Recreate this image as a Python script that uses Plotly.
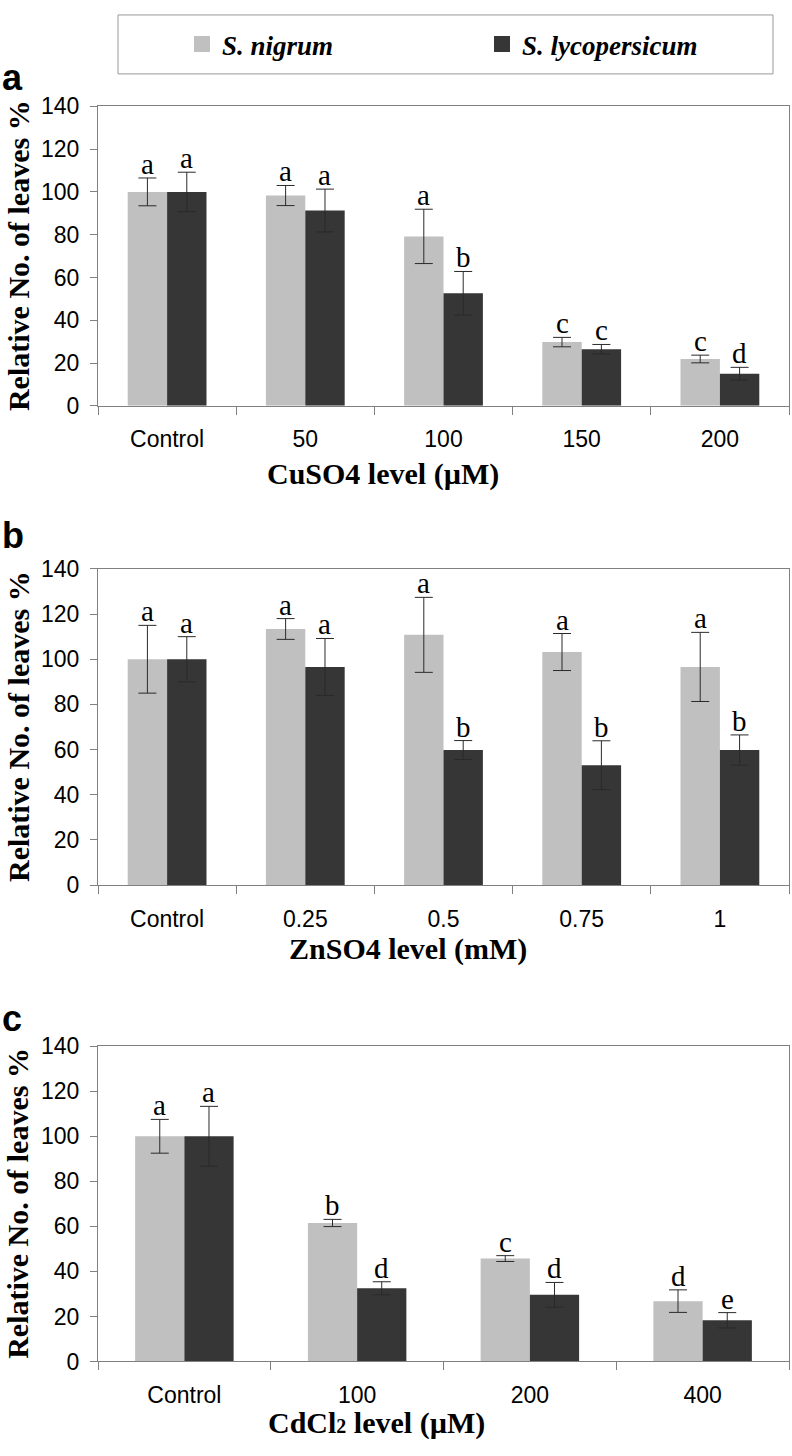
import plotly.graph_objects as go

# ---------------- data ----------------
series_names = ["S. nigrum", "S. lycopersicum"]
series_colors = ["#c0c0c0", "#363636"]

cu_levels = ["Control", "50", "100", "150", "200"]
cu_nigrum = [100, 98.3, 79.2, 29.8, 21.9]
cu_nigrum_err = [6.5, 4.7, 12.7, 2.2, 1.8]
cu_lyco = [100, 91.3, 52.6, 26.5, 15.0]
cu_lyco_err = [9.2, 10.0, 10.2, 2.2, 3.0]
cu_nigrum_sig = ["a", "a", "a", "c", "c"]
cu_lyco_sig = ["a", "a", "b", "c", "d"]

zn_levels = ["Control", "0.25", "0.5", "0.75", "1"]
zn_nigrum = [100, 113.4, 110.8, 103.2, 96.6]
zn_nigrum_err = [15.0, 4.6, 16.6, 8.2, 15.3]
zn_lyco = [100, 96.6, 59.8, 53.1, 59.8]
zn_lyco_err = [10.0, 12.6, 4.2, 10.8, 6.7]
zn_nigrum_sig = ["a", "a", "a", "a", "a"]
zn_lyco_sig = ["a", "a", "b", "b", "b"]

cd_levels = ["Control", "100", "200", "400"]
cd_nigrum = [100, 61.5, 45.7, 26.8]
cd_nigrum_err = [7.5, 1.6, 1.3, 5.0]
cd_lyco = [100, 32.5, 29.6, 18.3]
cd_lyco_err = [13.3, 2.9, 5.5, 3.4]
cd_nigrum_sig = ["a", "b", "c", "d"]
cd_lyco_sig = ["a", "d", "d", "e"]

y_ticks = [0, 20, 40, 60, 80, 100, 120, 140]
y_title = "Relative No. of leaves %"
x_titles = ["CuSO4 level (\u00b5M)", "ZnSO4 level (mM)",
            "CdCl<span style='font-size:20px'>2</span> level (\u00b5M)"]
panel_letters = ["a", "b", "c"]

# ---------------- layout geometry ----------------
W, H = 792, 1456
BARGAP = 0.43

def py(px):
    return 1 - px / H

panels = [
    dict(levels=cu_levels, n=cu_nigrum, ne=cu_nigrum_err, l=cu_lyco, le=cu_lyco_err,
         ns=cu_nigrum_sig, ls=cu_lyco_sig, top=95, bot=400, xt=(383, 469), letter_y=66),
    dict(levels=zn_levels, n=zn_nigrum, ne=zn_nigrum_err, l=zn_lyco, le=zn_lyco_err,
         ns=zn_nigrum_sig, ls=zn_lyco_sig, top=566, bot=888, xt=(408, 953), letter_y=532),
    dict(levels=cd_levels, n=cd_nigrum, ne=cd_nigrum_err, l=cd_lyco, le=cd_lyco_err,
         ns=cd_nigrum_sig, ls=cd_lyco_sig, top=1052, bot=1373, xt=(376, 1436), letter_y=1024),
]

x_dom = [98 / W, 789 / W]
fig = go.Figure()
annotations = []
shapes = []

axis_gray = "#808080"
tick_font = dict(family="Liberation Sans, Arial", size=23, color="black")
serif = "Liberation Serif, Times New Roman"

for k, p in enumerate(panels):
    xa = "x" if k == 0 else f"x{k+1}"
    ya = "y" if k == 0 else f"y{k+1}"
    for vals, errs, name, color in [(p["n"], p["ne"], series_names[0], series_colors[0]),
                                    (p["l"], p["le"], series_names[1], series_colors[1])]:
        fig.add_trace(go.Bar(
            x=p["levels"], y=vals, name=name, marker=dict(color=color, line=dict(width=0)),
            error_y=dict(type="data", array=errs, visible=True, color="#2a2a2a",
                         thickness=1, width=9),
            xaxis=xa, yaxis=ya, showlegend=False, legendgroup=name,
        ))
    # significance letters above error bars
    half = (1 - BARGAP) / 4
    for i in range(len(p["levels"])):
        for off, vals, errs, sig in [(-half, p["n"], p["ne"], p["ns"]),
                                     (half, p["l"], p["le"], p["ls"])]:
            annotations.append(dict(
                x=i + off, y=vals[i] + errs[i], xref=xa, yref=ya, text=sig[i],
                showarrow=False, yanchor="bottom", xanchor="center", yshift=-4,
                font=dict(family=serif, size=29, color="black")))
    dom_y = [py(p["bot"]), py(p["top"])]
    ax_common = dict(showline=True, linecolor=axis_gray, linewidth=1, mirror=True,
                     ticks="outside", tickcolor=axis_gray, tickwidth=1,
                     showgrid=False, zeroline=False, tickfont=tick_font)
    fig.update_layout(**{
        ("xaxis" if k == 0 else f"xaxis{k+1}"): dict(
            domain=x_dom, anchor=ya, type="category", tickson="boundaries",
            ticklen=8, ticklabelstandoff=13, **ax_common),
        ("yaxis" if k == 0 else f"yaxis{k+1}"): dict(
            domain=dom_y, anchor=xa, range=[0, 140], tickvals=y_ticks,
            ticklen=7, ticklabelstandoff=6, **ax_common),
    })
    # y title
    annotations.append(dict(
        x=18 / W, y=(dom_y[0] + dom_y[1]) / 2, xref="paper", yref="paper",
        text=f"<b>{y_title}</b>", textangle=-90, showarrow=False,
        xanchor="center", yanchor="middle",
        font=dict(family=serif, size=30, color="black")))
    # x title
    annotations.append(dict(
        x=p["xt"][0] / W, y=py(p["xt"][1]), xref="paper", yref="paper",
        text=f"<b>{x_titles[k]}</b>", showarrow=False,
        xanchor="center", yanchor="middle",
        font=dict(family=serif, size=30, color="black")))
    # panel letter
    annotations.append(dict(
        x=0, y=py(p["letter_y"]), xref="paper", yref="paper",
        text=f"<b>{panel_letters[k]}</b>", showarrow=False,
        xanchor="left", yanchor="middle",
        font=dict(family="Liberation Sans, Arial", size=36, color="black")))

# legend entries (square swatches)
for name, color in zip(series_names, series_colors):
    fig.add_trace(go.Scatter(
        x=[None], y=[None], mode="markers", name=f"<b><i>{name}</i></b>",
        marker=dict(symbol="square", size=18, color=color), legendgroup=name,
        xaxis="x", yaxis="y", showlegend=True))

shapes.append(dict(type="rect", xref="paper", yref="paper",
                   x0=118 / W, x1=773 / W, y0=py(62), y1=py(2),
                   line=dict(color="#999999", width=1), fillcolor="rgba(0,0,0,0)"))

fig.update_layout(
    width=W, height=H, margin=dict(l=0, r=0, t=0, b=0),
    paper_bgcolor="white", plot_bgcolor="white",
    barmode="group", bargap=BARGAP, bargroupgap=0,
    annotations=annotations, shapes=shapes,
    legend=dict(orientation="h", x=182 / W, xanchor="left", y=py(32), yanchor="middle",
                bgcolor="rgba(0,0,0,0)", borderwidth=0,
                font=dict(family=serif, size=27, color="black"),
                entrywidth=255, entrywidthmode="pixels", itemclick=False),
)

fig.write_html("out.html", config={"displayModeBar": False},
               post_script="document.body.style.margin='0';document.body.style.overflow='hidden';")
